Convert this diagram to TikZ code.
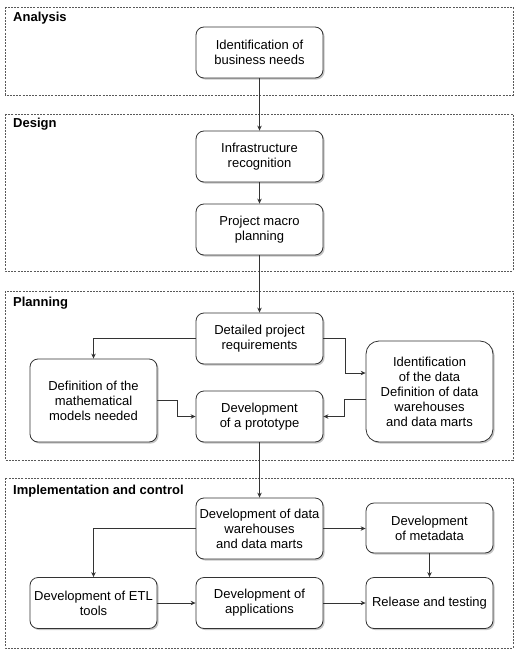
\documentclass[tikz,border=0pt]{standalone}
\usepackage{fontspec}
\setmainfont{Liberation Sans}
\usetikzlibrary{positioning,shadows,arrows.meta}
\definecolor{linegray}{gray}{0.2}

\begin{document}
\begin{tikzpicture}[x=1pt,y=-1pt,->,>={Stealth[length=5pt,width=4.5pt]}]
  \tikzstyle{task}=[rectangle, rounded corners=8pt, draw=linegray, line width=0.8pt,
fill=white, drop shadow={shadow xshift=1.6pt, shadow yshift=-1.6pt, fill=black!45},
align=center, inner sep=2pt, minimum width=127pt, minimum height=51pt,
font=\fontsize{13}{15}\selectfont]
  \tikzstyle{phase}=[draw=black!65, line width=0.7pt, dash pattern=on 2pt off 1.2pt]
  \tikzstyle{phaselabel}=[anchor=base west, inner sep=0pt, font=\bfseries\fontsize{13}{15}\selectfont]
  \tikzstyle{flow}=[draw=linegray, line width=0.9pt]

  \useasboundingbox (0,0) rectangle (531,655);

  % phases
  \draw[phase,-] (5,7) rectangle (513,95);
  \draw[phase,-] (5,114) rectangle (513,271);
  \draw[phase,-] (5,291) rectangle (513,460);
  \draw[phase,-] (5,478) rectangle (513,648);
  \node[phaselabel] (L_1) at (13,21.5)  {Analysis};
  \node[phaselabel] (L_2) at (13,127.5) {Design};
  \node[phaselabel] (L_3) at (13,306)   {Planning};
  \node[phaselabel] (L_4) at (13,494)   {Implementation and control};

  % tasks
  \node[task] (B_1) at (259.5,52.5)  {Identification of\\business needs};
  \node[task] (B_2) at (259.5,156.5) {Infrastructure\\recognition};
  \node[task] (B_3) at (259.5,229.5) {Project macro\\planning};
  \node[task] (B_4) at (259.5,338.5) {Detailed project\\requirements};
  \node[task, minimum height=83pt] (B_5) at (93.5,400.5) {Definition of the\\mathematical\\models needed};
  \node[task, minimum height=101pt, rounded corners=13pt] (B_6) at (429.5,391.5)
    {Identification\\of the data\\Definition of data\\warehouses\\and data marts};
  \node[task] (B_7) at (259.5,416.5) {Development\\of a prototype};
  \node[task, minimum height=61pt] (B_8) at (259.5,528.5) {Development of data\\warehouses\\and data marts};
  \node[task, minimum height=50pt] (B_9) at (429.5,528) {Development\\of metadata};
  \node[task] (B_10) at (93.5,603)  {Development of ETL\\tools};
  \node[task] (B_11) at (259.5,603) {Development of\\applications};
  \node[task] (B_12) at (429.5,603) {Release and testing};

  \draw[flow] (B_1) -- (B_2);
  \draw[flow] (B_2) -- (B_3);
  \draw[flow] (B_3) -- (B_4);
  \draw[flow] (B_4.west) -| (B_5.north);
  \draw[flow] (B_4.east) -- ++(22,0) |- ([yshift=18.5pt]B_6.west);
  \draw[flow] (B_5.east) -- ++(20,0) |- (B_7.west);
  \draw[flow] ([yshift=-7.5pt]B_6.west) -- ++(-21,0) |- (B_7.east);
  \draw[flow] (B_7) -- (B_8);
  \draw[flow] (B_8.west) -| (B_10.north);
  \draw[flow] (B_8.east) -- (B_8.east -| B_9.west);
  \draw[flow] (B_9) -- (B_12);
  \draw[flow] (B_10) -- (B_11);
  \draw[flow] (B_11) -- (B_12);
\end{tikzpicture}
\end{document}
